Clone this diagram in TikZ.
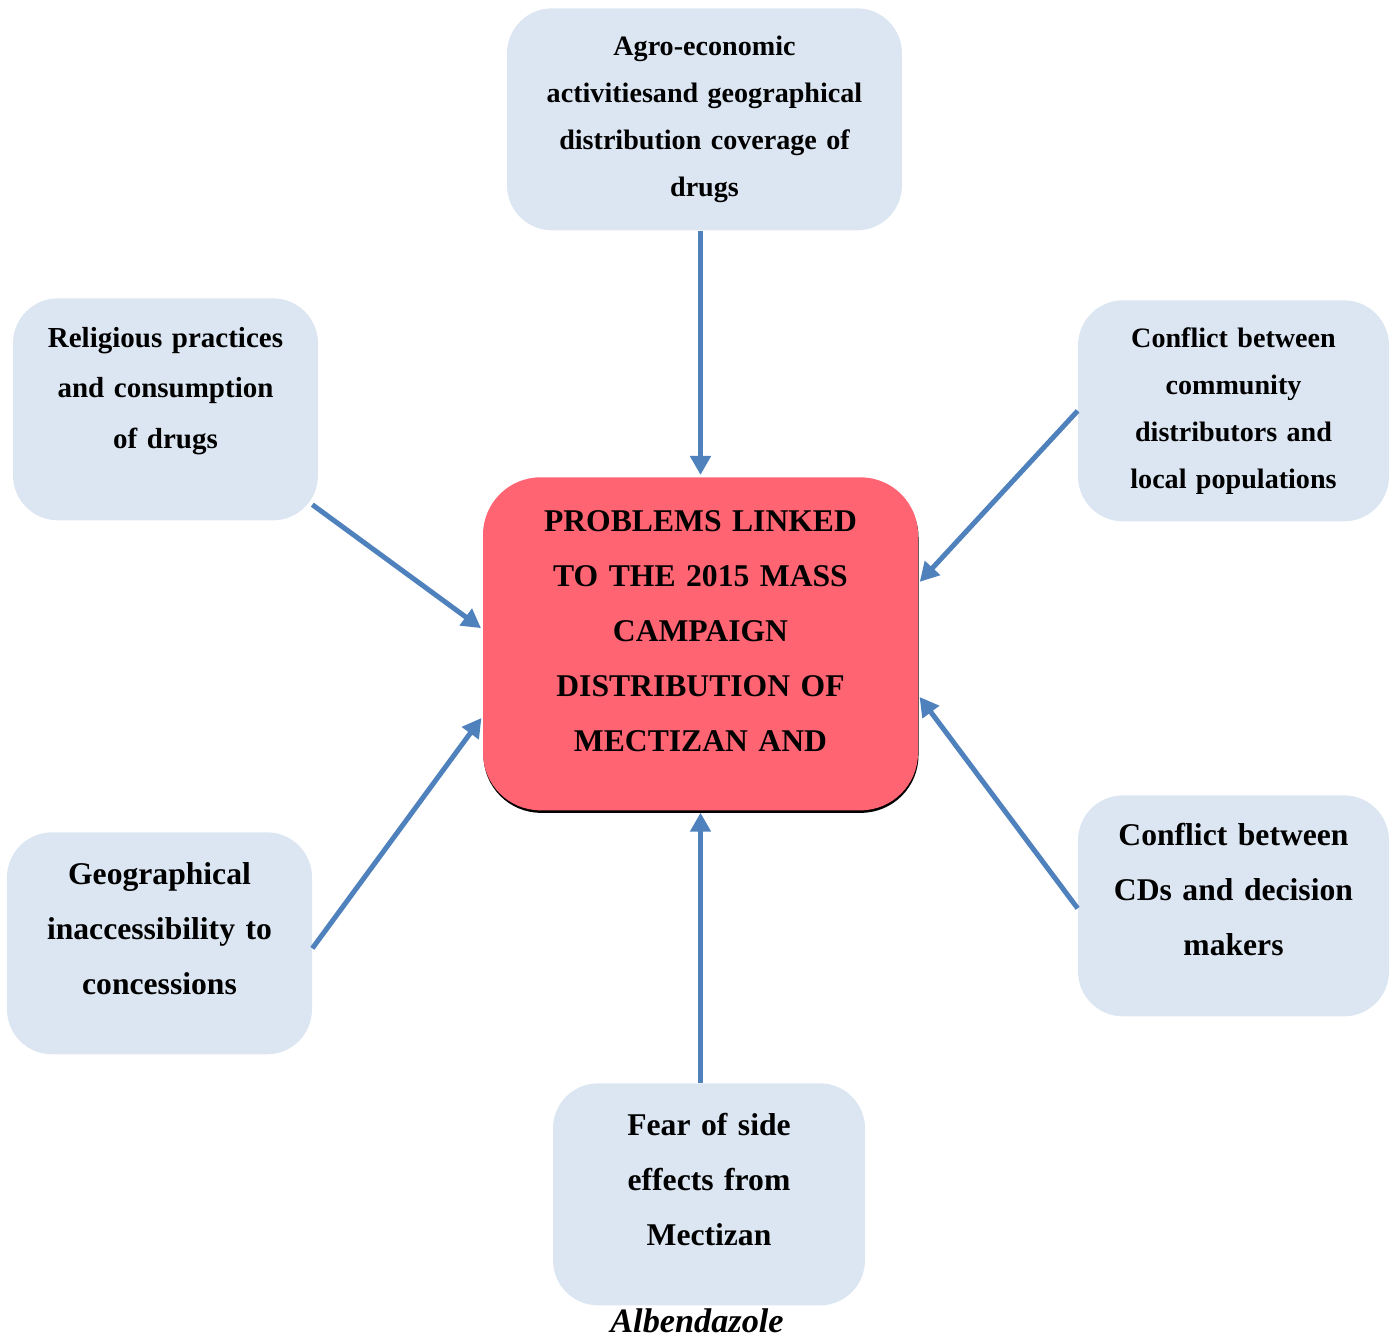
\documentclass[tikz,border=0pt]{standalone}
\usepackage{fontspec}
\setmainfont{Liberation Serif}
\usetikzlibrary{arrows.meta,shadows}

\definecolor{causeblue}{HTML}{DCE6F2}
\definecolor{problemred}{HTML}{FF6473}
\definecolor{linkblue}{HTML}{4F81BD}

\tikzset{
  cause/.style={anchor=north, fill=causeblue, rounded corners=0.9cm,
    inner xsep=0pt, inner ysep=0pt, align=center},
  problem/.style={anchor=north, fill=problemred, rounded corners=1.15cm,
    inner xsep=0pt, inner ysep=0pt, align=center,
    drop shadow={shadow xshift=0.01cm, shadow yshift=-0.05cm, fill=black, opacity=1}},
  link/.style={->, draw=linkblue, line width=0.1cm, shorten >=0.04cm},
}

\begin{document}
\begin{tikzpicture}[>={Triangle[length=0.38cm,width=0.4cm]}]
  \useasboundingbox (0,0) rectangle (27.9,26.78);

  % centre box
  \node[problem, text width=8.7cm, text height=1.09cm, text depth=5.57cm,
        font={\bfseries\fontsize{18}{31.3}\selectfont}] (probl) at (14.01,17.24)
    {PROBLEMS LINKED\\TO THE 2015 MASS\\CAMPAIGN\\DISTRIBUTION OF\\MECTIZAN AND};

  % causes
  \node[cause, text width=7.9cm, text height=0.94cm, text depth=3.5cm,
        font={\bfseries\fontsize{16}{26.7}\selectfont}] (agro) at (14.09,26.62)
    {Agro-economic\\activitiesand geographical\\distribution coverage of\\drugs};
  \node[cause, text width=6.1cm, text height=0.99cm, text depth=3.45cm,
        font={\bfseries\fontsize{16.5}{28.5}\selectfont}] (relig) at (3.31,20.82)
    {Religious practices\\and consumption\\of drugs};
  \node[cause, text width=6.22cm, text height=0.94cm, text depth=3.48cm,
        font={\bfseries\fontsize{16}{26.7}\selectfont}] (confl) at (24.67,20.78)
    {Conflict between\\community\\distributors and\\local populations};
  \node[cause, text width=6.1cm, text height=1.05cm, text depth=3.39cm,
        font={\bfseries\fontsize{18}{31.3}\selectfont}] (geo) at (3.19,10.14)
    {Geographical\\inaccessibility to\\concessions};
  \node[cause, text width=6.22cm, text height=1.01cm, text depth=3.41cm,
        font={\bfseries\fontsize{18}{31.3}\selectfont}] (cds) at (24.67,10.88)
    {Conflict between\\CDs and decision\\makers};
  \node[cause, text width=6.24cm, text height=1.05cm, text depth=3.39cm,
        font={\bfseries\fontsize{18}{31.3}\selectfont}] (fear) at (14.18,5.12)
    {Fear of side\\effects from\\Mectizan};
  \node[anchor=base, inner sep=0pt, font={\bfseries\itshape\fontsize{19.5}{22}\selectfont}]
    (alb) at (13.94,0.12) {Albendazole};

  % arrows into the centre
  \draw[link] (agro.south -| probl.north) -- (probl.north);
  \draw[link] (fear.north -| probl.south) -- (probl.south);
  \draw[link] ([xshift=-0.12cm,yshift=0.32cm]relig.south east) -- ([yshift=0.29cm]probl.west);
  \draw[link] (confl.west) -- ([yshift=1.21cm]probl.east);
  \draw[link] ([yshift=-0.1cm]geo.east) -- ([yshift=-1.45cm]probl.west);
  \draw[link] ([yshift=-0.05cm]cds.west) -- ([yshift=-1.03cm]probl.east);
\end{tikzpicture}
\end{document}
